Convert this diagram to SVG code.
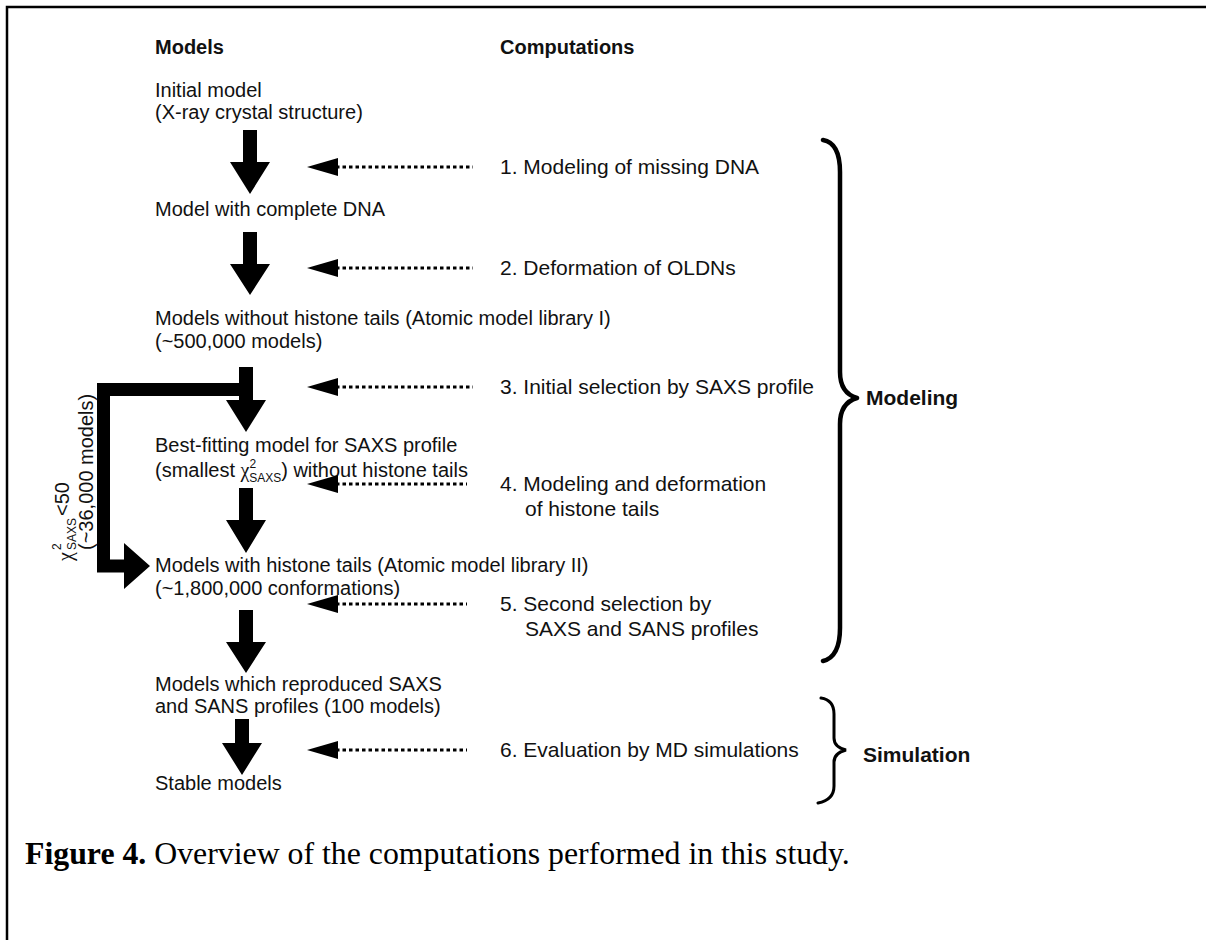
<svg xmlns="http://www.w3.org/2000/svg" width="1206" height="940" viewBox="0 0 1206 940">
<style>
.t{font-family:"Liberation Sans",Arial,sans-serif;font-size:20px;fill:#111}
.r{font-family:"Liberation Sans",Arial,sans-serif;font-size:21px;fill:#111}
.b{font-family:"Liberation Sans",Arial,sans-serif;font-size:20px;font-weight:bold;fill:#111}
.bg{font-family:"Liberation Sans",Arial,sans-serif;font-size:21px;font-weight:bold;fill:#111}
.s{font-family:"Liberation Serif","Times New Roman",serif}
.sm{font-size:12px}
.arr{fill:#000}
.dot{stroke:#000;stroke-width:3;stroke-dasharray:3.5 3;fill:none}
.brace{fill:none;stroke:#000;stroke-width:4.5;stroke-linecap:round;stroke-linejoin:round}
.cap{font-family:"Liberation Serif","Times New Roman",serif;font-size:31.8px;fill:#000}
</style>
<rect width="1206" height="940" fill="#fff"/>
<path d="M7 940 V7 H1206" fill="none" stroke="#000" stroke-width="2.5"/>

<g id="headers">
<text class="b" x="155" y="54">Models</text>
<text class="b" x="500" y="54">Computations</text>
</g>

<g id="node-initial">
<text class="t" x="155" y="97">Initial model</text>
<text class="t" x="155" y="119">(X-ray crystal structure)</text>
</g>
<g id="node-complete">
<text class="t" x="155" y="216">Model with complete DNA</text>
</g>
<g id="node-lib1">
<text class="t" x="155" y="325">Models without histone tails (Atomic model library I)</text>
<text class="t" x="155" y="348">(~500,000 models)</text>
</g>
<g id="node-best">
<text class="t" x="155" y="452">Best-fitting model for SAXS profile</text>
<text class="t" x="155" y="477">(smallest <tspan class="s">χ</tspan><tspan class="sm" dy="-9">2</tspan><tspan class="sm" dx="-7" dy="14">SAXS</tspan><tspan dy="-5">) without histone tails</tspan></text>
</g>
<g id="node-lib2">
<text class="t" x="155" y="572">Models with histone tails (Atomic model library II)</text>
<text class="t" x="155" y="595">(~1,800,000 conformations)</text>
</g>
<g id="node-repro">
<text class="t" x="155" y="691">Models which reproduced SAXS</text>
<text class="t" x="155" y="713">and SANS profiles (100 models)</text>
</g>
<g id="node-stable">
<text class="t" x="155" y="790">Stable models</text>
</g>

<g id="comp-1"><text class="r" x="500" y="174">1. Modeling of missing DNA</text></g>
<g id="comp-2"><text class="r" x="500" y="275">2. Deformation of OLDNs</text></g>
<g id="comp-3"><text class="r" x="500" y="394">3. Initial selection by SAXS profile</text></g>
<g id="comp-4"><text class="r" x="500" y="491">4. Modeling and deformation</text><text class="r" x="525" y="516">of histone tails</text></g>
<g id="comp-5"><text class="r" x="500" y="611">5. Second selection by</text><text class="r" x="525" y="636">SAXS and SANS profiles</text></g>
<g id="comp-6"><text class="r" x="500" y="757">6. Evaluation by MD simulations</text></g>

<g id="connectors">
<polygon class="arr" points="243,130 257,130 257,162 270,162 250,194 230,162 243,162"/>
<polygon class="arr" points="243,232 257,232 257,264 270,264 250,295 230,264 243,264"/>
<polygon class="arr" points="239,367 253,367 253,400 266,400 246,432 226,400 239,400"/>
<polygon class="arr" points="239,488 253,488 253,520 266,520 246,553 226,520 239,520"/>
<polygon class="arr" points="239,610 253,610 253,642 266,642 246,673 226,642 239,642"/>
<polygon class="arr" points="235,719 249,719 249,743 262,743 242,775 222,743 235,743"/>
<path class="arr" d="M246 383 V396 H110 V559.5 H124 V543 L150 566 L124 589 V572.5 H97 V383 Z"/>
<g>
<line class="dot" x1="336" y1="167" x2="473" y2="167"/><polygon class="arr" points="307,167 338,158 338,176"/>
<line class="dot" x1="336" y1="268" x2="473" y2="268"/><polygon class="arr" points="307,268 338,259 338,277"/>
<line class="dot" x1="336" y1="387" x2="473" y2="387"/><polygon class="arr" points="307,387 338,378 338,396"/>
<line class="dot" x1="336" y1="484" x2="467" y2="484"/><polygon class="arr" points="307,484 338,475 338,493"/>
<line class="dot" x1="336" y1="604" x2="467" y2="604"/><polygon class="arr" points="307,604 338,595 338,613"/>
<line class="dot" x1="336" y1="750" x2="467" y2="750"/><polygon class="arr" points="307,750 338,741 338,759"/>
</g>
</g>

<g id="filter-label" transform="rotate(-90)">
<text class="t"><tspan class="s" x="-561" y="72">χ</tspan><tspan class="sm" x="-550" y="61">2</tspan><tspan class="sm" x="-550" y="76">SAXS</tspan><tspan x="-516" y="69">&lt;50</tspan></text>
<text class="t" x="-550" y="93">(~36,000 models)</text>
</g>

<g id="group-modeling">
<path class="brace" d="M823 140 Q840 143 840 172 V372 Q840 393 857 398 Q840 403 840 424 V628 Q840 657 823 661"/>
<text class="bg" x="866" y="405">Modeling</text>
</g>
<g id="group-simulation">
<path d="M821 698 Q834 700 834 714 V738 Q834 747 846 750 Q834 753 834 762 V786 Q834 800 818 803" fill="none" stroke="#000" stroke-width="3" stroke-linecap="round"/>
<text class="bg" x="863" y="762">Simulation</text>
</g>

<g id="caption">
<text class="cap" x="25" y="864"><tspan font-weight="bold">Figure 4.</tspan> Overview of the computations performed in this study.</text>
</g>
</svg>
